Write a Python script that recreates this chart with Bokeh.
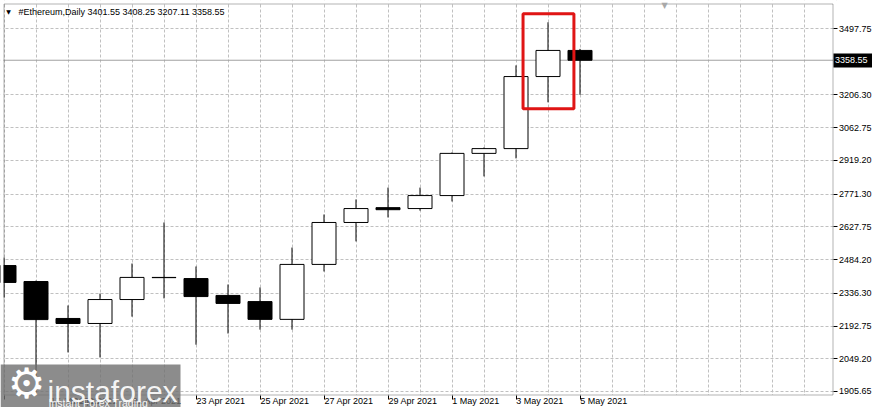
from bokeh.plotting import figure
from bokeh.models import (FixedTicker, Label, BoxAnnotation, ColumnDataSource,
                          Range1d, Span, PrintfTickFormatter, LinearAxis)
from bokeh.embed import file_html
from bokeh.resources import INLINE

# ---------------- data ----------------
dates = ["17 Apr 2021", "18 Apr 2021", "19 Apr 2021", "20 Apr 2021", "21 Apr 2021",
         "22 Apr 2021", "23 Apr 2021", "24 Apr 2021", "25 Apr 2021", "26 Apr 2021",
         "27 Apr 2021", "28 Apr 2021", "29 Apr 2021", "30 Apr 2021", "1 May 2021",
         "2 May 2021", "3 May 2021", "4 May 2021", "5 May 2021"]
opens = [2458, 2388, 2226, 2204, 2309, 2405, 2401, 2327, 2300, 2222,
         2463, 2647, 2712, 2708, 2765, 2950, 2971, 3287, 3401.55]
highs = [2493, 2392, 2283, 2335, 2467, 2647, 2454, 2375, 2362, 2537,
         2682, 2748, 2800, 2800, 2954, 2976, 3336, 3525, 3408.25]
lows = [2318, 1895, 2077, 2055, 2234, 2314, 2111, 2160, 2177, 2177,
        2432, 2564, 2669, 2699, 2739, 2849, 2928, 3174, 3207.11]
closes = [2384, 2221, 2204, 2309, 2406, 2406, 2322, 2292, 2222, 2463,
          2647, 2708, 2703, 2765, 2950, 2971, 3287, 3401.55, 3358.55]
price_ticks = [1905.65, 2049.20, 2192.75, 2336.30, 2484.20, 2627.75,
               2771.30, 2919.20, 3062.75, 3206.30, 3497.75]
symbol = "#Ethereum,Daily"
highlight_day = "4 May 2021"
brand = "instaforex"
slogan = "Instant Forex Trading"

# ---------------- layout (pixels) ----------------
W, H = 872, 407
X0, DX = 3.5, 32.0              # pixel of first candle, pixels per day
Y_REF, P_REF, S = 28.0, 3497.75, 4.386   # price scale: pixel, price, price per pixel
FL, FR, FT, FB = 3.5, 832.5, 3.5, 394.5  # chart box edges


def dx(px):
    return (px - X0) / DX


def dy(py):
    return P_REF - (py - Y_REF) * S


FONT = "Liberation Sans"
SYM_FONT = "DejaVu Sans"

idx = list(range(len(dates)))
src = ColumnDataSource(dict(
    x=idx, h=highs, l=lows,
    top=[max(o, c) for o, c in zip(opens, closes)],
    bottom=[min(o, c) for o, c in zip(opens, closes)],
    fill=["white" if c >= o else "black" for o, c in zip(opens, closes)],
))

p = figure(width=W, height=H, output_backend="svg", toolbar_location=None, title=None,
           x_range=Range1d(dx(0), dx(W)), y_range=Range1d(dy(H), dy(0)),
           y_axis_location="right", min_border=0, min_border_left=0,
           min_border_right=0, min_border_top=0, min_border_bottom=0)
p.background_fill_color = "white"
p.border_fill_color = "white"
p.outline_line_color = None

# grids
p.xgrid.ticker = FixedTicker(ticks=list(range(0, 27)))
p.ygrid.ticker = FixedTicker(ticks=price_ticks)
for g in (p.xgrid, p.ygrid):
    g.grid_line_color = "#c0c0c0"
    g.grid_line_dash = "3 2"
    g.grid_line_width = 1

# date labels start at their tick: pad on the left by the label's own width
ARIAL_W = {" ": .278, "A": .667, "p": .556, "r": .333, "M": .833, "a": .556, "y": .5}


def left_anchor(s):
    w = sum(ARIAL_W.get(ch, .556) for ch in s)
    return "\u00a0" * round(w / .278) + s


xa = p.xaxis[0]
ya = p.yaxis[0]
xa.fixed_location = dy(FB)
ya.fixed_location = dx(FR)
xa.ticker = FixedTicker(ticks=idx[::2])
xa.major_label_overrides = {i: left_anchor(dates[i]) for i in idx[::2]}
ya.ticker = FixedTicker(ticks=price_ticks)
ya.formatter = PrintfTickFormatter(format="%.2f")
for ax in (xa, ya):
    ax.axis_line_color = None
    ax.major_tick_line_color = "black"
    ax.major_tick_out = 4
    ax.major_tick_in = 0
    ax.minor_tick_out = 0
    ax.minor_tick_in = 0
    ax.major_label_text_font = FONT
    ax.major_label_text_font_size = "9px"
    ax.major_label_text_color = "black"
ya.major_label_standoff = 2
xa.major_label_standoff = -3

# current price tag on the price scale
tag = LinearAxis(fixed_location=dx(FR), ticker=FixedTicker(ticks=[closes[-1]]),
                 formatter=PrintfTickFormatter(format="%.2f"),
                 axis_line_color=None, major_tick_line_color="black",
                 major_tick_line_width=14, major_tick_out=42, major_tick_in=0,
                 minor_tick_out=0, minor_tick_in=0, major_label_standoff=-40,
                 major_label_text_color="white", major_label_text_font=FONT,
                 major_label_text_font_size="9px")
p.add_layout(tag, "right")

# current price line
p.add_layout(Span(location=closes[-1], dimension="width", line_color="#a0a0a0",
                  line_width=1, level="underlay"))

# white margins outside the chart box
for l, r, t, b in ((FR, W, 0, H), (0, W, FB, H), (0, W, 0, FT - 0.5)):
    p.add_layout(BoxAnnotation(left=l, right=r, top=t, bottom=b,
                               left_units="canvas", right_units="canvas",
                               top_units="canvas", bottom_units="canvas",
                               fill_color="white", fill_alpha=1, line_color=None,
                               level="underlay"))

# candles
p.segment(x0="x", y0="l", x1="x", y1="h", line_color="black", line_width=1, source=src)
p.vbar(x="x", width=0.75, top="top", bottom="bottom", fill_color="fill",
       line_color="black", line_width=1, source=src)

# highlight box around 4 May
hi = dates.index(highlight_day)
p.quad(left=hi - 0.78, right=hi + 0.81, bottom=dy(108.3), top=dy(13.3),
       fill_alpha=0, line_color="#e01515", line_width=3)

# left margin + chart box border
p.add_layout(BoxAnnotation(left=0, right=FL - 0.5, top=0, bottom=H,
                           left_units="canvas", right_units="canvas",
                           top_units="canvas", bottom_units="canvas",
                           fill_color="white", fill_alpha=1, line_color=None))
p.add_layout(BoxAnnotation(left=FL, right=FR, top=FT, bottom=FB,
                           left_units="canvas", right_units="canvas",
                           top_units="canvas", bottom_units="canvas",
                           fill_alpha=0, line_color="black", line_width=1))

# header text
p.add_layout(Label(x=8, y=11, x_units="canvas", y_units="canvas", text="▼",
                   text_font=SYM_FONT, text_font_size="6px", text_align="center",
                   text_baseline="middle", text_color="black"))
title = f"{symbol}  {opens[-1]:.2f} {highs[-1]:.2f} {lows[-1]:.2f} {closes[-1]:.2f}"
p.add_layout(Label(x=18, y=11, x_units="canvas", y_units="canvas", text=title,
                   text_font=FONT, text_font_size="9px", text_baseline="middle",
                   text_color="black"))
p.add_layout(Label(x=664, y=5, x_units="canvas", y_units="canvas", text="▼",
                   text_font=SYM_FONT, text_font_size="8px", text_align="center",
                   text_baseline="middle", text_color="#a8a8a8"))

# watermark
p.add_layout(BoxAnnotation(left=0, right=180, top=364, bottom=H,
                           left_units="canvas", right_units="canvas",
                           top_units="canvas", bottom_units="canvas",
                           fill_color="#6f6f6f", fill_alpha=0.8, line_color=None,
                           level="overlay"))
p.add_layout(Label(x=26, y=383, x_units="canvas", y_units="canvas", text="⚙",
                   text_font=SYM_FONT, text_font_size="42px", text_color="white",
                   text_align="center", text_baseline="middle", level="overlay"))
p.add_layout(Label(x=47, y=391, x_units="canvas", y_units="canvas", text=brand,
                   text_font=FONT, text_font_size="30px", text_color="white",
                   text_alpha=0.92, text_baseline="alphabetic", level="overlay"))
p.add_layout(Label(x=48, y=402, x_units="canvas", y_units="canvas", text=slogan,
                   text_font=FONT, text_font_size="10.5px", text_color="white",
                   text_alpha=0.92, text_baseline="alphabetic", level="overlay"))

open("out.html", "w").write(file_html(p, INLINE))
